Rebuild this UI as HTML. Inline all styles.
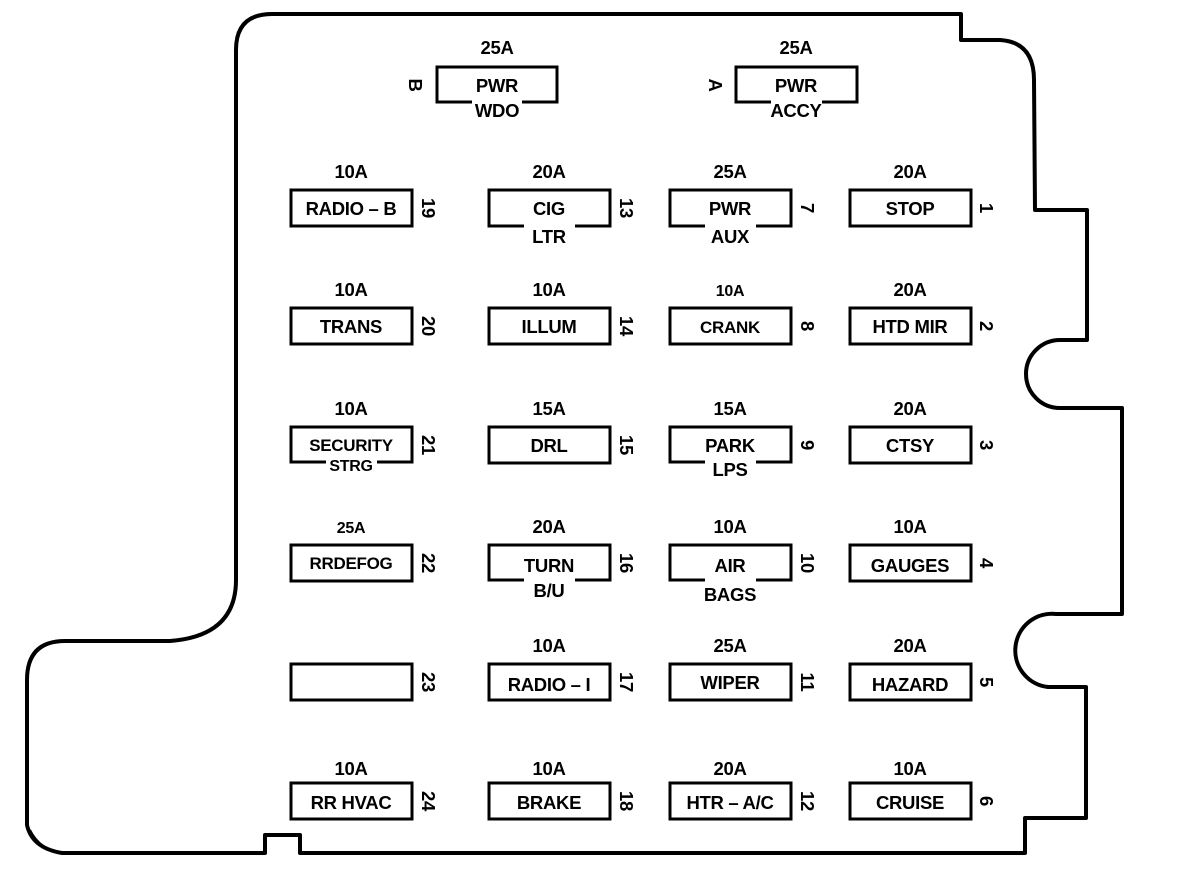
<!DOCTYPE html>
<html><head><meta charset="utf-8"><style>
html,body{margin:0;padding:0;background:#fff;width:1184px;height:872px;overflow:hidden}
svg text{font-family:"Liberation Sans",sans-serif;font-weight:bold;font-size:18.5px;fill:#000;letter-spacing:-0.3px}
</style></head><body>
<svg width="1184" height="872" viewBox="0 0 1184 872" xmlns="http://www.w3.org/2000/svg">
<g fill="none" stroke="#000" stroke-width="4" stroke-linejoin="round">
<path d="M236 580 L236 50 Q236 14 272 14 L961 14 L961 40 L1000 40 Q1034 42 1034 80 L1035 210 L1087 210 L1087 340 L1060 340 A34 34 0 0 0 1060 408 L1122 408 L1122 614 L1056 614 A36 36 0 0 0 1048 687 L1086 687 L1086 818 L1025 818 L1025 853 L300 853 L300 835 L265 835 L265 853 L62 853 Q32 848 27 825 L27 680 Q27 641 65 641 L170 641 Q236 636 236 580 Z"/>
<path d="M30 830 Q40 850 62 853" stroke-width="2"/>
</g>
<g fill="none" stroke="#000" stroke-width="3">
<path d="M472 102 L437 102 L437 67 L557 67 L557 102 L522 102"/>
<path d="M771 102 L736 102 L736 67 L857 67 L857 102 L822 102"/>
<rect x="291" y="190" width="121" height="36"/>
<rect x="850" y="190" width="121" height="36"/>
<rect x="291" y="308" width="121" height="36"/>
<rect x="489" y="308" width="121" height="36"/>
<rect x="670" y="308" width="121" height="36"/>
<rect x="850" y="308" width="121" height="36"/>
<rect x="489" y="427" width="121" height="36"/>
<rect x="850" y="427" width="121" height="36"/>
<rect x="291" y="545" width="121" height="36"/>
<rect x="850" y="545" width="121" height="36"/>
<rect x="291" y="664" width="121" height="36"/>
<rect x="489" y="664" width="121" height="36"/>
<rect x="670" y="664" width="121" height="36"/>
<rect x="850" y="664" width="121" height="36"/>
<rect x="291" y="783" width="121" height="36"/>
<rect x="489" y="783" width="121" height="36"/>
<rect x="670" y="783" width="121" height="36"/>
<rect x="850" y="783" width="121" height="36"/>
<path d="M524 226 L489 226 L489 190 L610 190 L610 226 L575 226"/>
<path d="M705 226 L670 226 L670 190 L791 190 L791 226 L756 226"/>
<path d="M326 462 L291 462 L291 427 L412 427 L412 462 L377 462"/>
<path d="M705 462 L670 462 L670 427 L791 427 L791 462 L756 462"/>
<path d="M524 580 L489 580 L489 545 L610 545 L610 580 L575 580"/>
<path d="M705 580 L670 580 L670 545 L791 545 L791 580 L756 580"/>
</g>
<g text-anchor="middle">
<text x="497" y="54">25A</text><text x="497" y="92">PWR</text><text x="497" y="117">WDO</text>
<text x="796" y="54">25A</text><text x="796" y="92">PWR</text><text x="796" y="117">ACCY</text>
<text transform="translate(415 85) rotate(90)" y="6">B</text>
<text transform="translate(715 85) rotate(90)" y="6">A</text>

<text x="351" y="178">10A</text><text x="351" y="215">RADIO – B</text>
<text x="549" y="178">20A</text><text x="549" y="215">CIG</text><text x="549" y="243">LTR</text>
<text x="730" y="178">25A</text><text x="730" y="215">PWR</text><text x="730" y="243">AUX</text>
<text x="910" y="178">20A</text><text x="910" y="215">STOP</text>

<text x="351" y="296">10A</text><text x="351" y="333">TRANS</text>
<text x="549" y="296">10A</text><text x="549" y="333">ILLUM</text>
<text x="730" y="296" style="font-size:16px">10A</text><text x="730" y="333" style="font-size:17px">CRANK</text>
<text x="910" y="296">20A</text><text x="910" y="333">HTD MIR</text>

<text x="351" y="415">10A</text><text x="351" y="451" style="font-size:17px">SECURITY</text><text x="351" y="471" style="font-size:16px">STRG</text>
<text x="549" y="415">15A</text><text x="549" y="452">DRL</text>
<text x="730" y="415">15A</text><text x="730" y="452">PARK</text><text x="730" y="476">LPS</text>
<text x="910" y="415">20A</text><text x="910" y="452">CTSY</text>

<text x="351" y="533" style="font-size:16px">25A</text><text x="351" y="569" style="font-size:17px">RRDEFOG</text>
<text x="549" y="533">20A</text><text x="549" y="572">TURN</text><text x="549" y="597">B/U</text>
<text x="730" y="533">10A</text><text x="730" y="572">AIR</text><text x="730" y="601">BAGS</text>
<text x="910" y="533">10A</text><text x="910" y="572">GAUGES</text>

<text x="549" y="652">10A</text><text x="549" y="691">RADIO – I</text>
<text x="730" y="652">25A</text><text x="730" y="689">WIPER</text>
<text x="910" y="652">20A</text><text x="910" y="691">HAZARD</text>

<text x="351" y="775">10A</text><text x="351" y="809">RR HVAC</text>
<text x="549" y="775">10A</text><text x="549" y="809">BRAKE</text>
<text x="730" y="775">20A</text><text x="730" y="809">HTR – A/C</text>
<text x="910" y="775">10A</text><text x="910" y="809">CRUISE</text>

<g>
<text transform="translate(428 208) rotate(90)" y="6">19</text>
<text transform="translate(626 208) rotate(90)" y="6">13</text>
<text transform="translate(807 208) rotate(90)" y="6">7</text>
<text transform="translate(986 208) rotate(90)" y="6">1</text>
<text transform="translate(428 326) rotate(90)" y="6">20</text>
<text transform="translate(626 326) rotate(90)" y="6">14</text>
<text transform="translate(807 326) rotate(90)" y="6">8</text>
<text transform="translate(986 326) rotate(90)" y="6">2</text>
<text transform="translate(428 445) rotate(90)" y="6">21</text>
<text transform="translate(626 445) rotate(90)" y="6">15</text>
<text transform="translate(807 445) rotate(90)" y="6">9</text>
<text transform="translate(986 445) rotate(90)" y="6">3</text>
<text transform="translate(428 563) rotate(90)" y="6">22</text>
<text transform="translate(626 563) rotate(90)" y="6">16</text>
<text transform="translate(807 563) rotate(90)" y="6">10</text>
<text transform="translate(986 563) rotate(90)" y="6">4</text>
<text transform="translate(428 682) rotate(90)" y="6">23</text>
<text transform="translate(626 682) rotate(90)" y="6">17</text>
<text transform="translate(807 682) rotate(90)" y="6">11</text>
<text transform="translate(986 682) rotate(90)" y="6">5</text>
<text transform="translate(428 801) rotate(90)" y="6">24</text>
<text transform="translate(626 801) rotate(90)" y="6">18</text>
<text transform="translate(807 801) rotate(90)" y="6">12</text>
<text transform="translate(986 801) rotate(90)" y="6">6</text>
</g>
</g>
</svg>
</body></html>
